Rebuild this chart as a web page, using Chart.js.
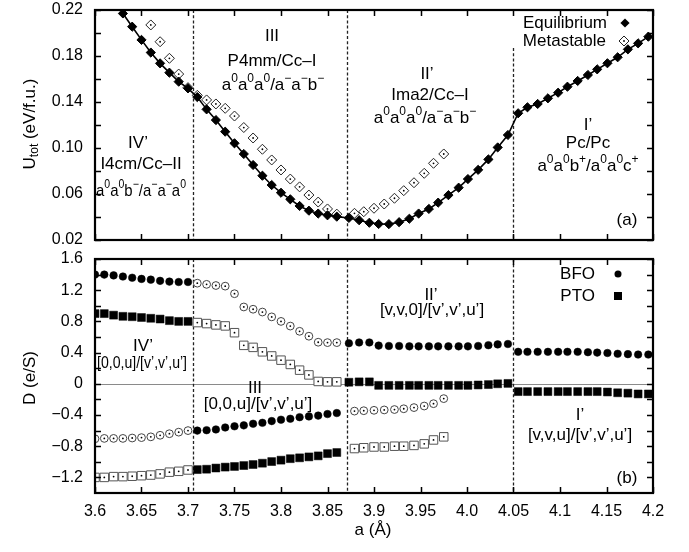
<!DOCTYPE html>
<html><head><meta charset="utf-8">
<script src="https://cdn.jsdelivr.net/npm/chart.js@4.4.1/dist/chart.umd.min.js"></script>
<style>
html,body{margin:0;padding:0;background:#fff;}
#wrap{position:relative;width:689px;height:552px;overflow:hidden;}
canvas{position:absolute;left:0;}
#c1{top:0;} #c2{top:250px;}
</style></head><body>
<div id="wrap"><canvas id="c1" width="689" height="250"></canvas><canvas id="c2" width="689" height="302"></canvas></div>
<script>
// ---------- data ----------
const xIV  = [3.60,3.61,3.62,3.63,3.64,3.65,3.66,3.67,3.68,3.69,3.70];
const xIII = [3.71,3.72,3.73,3.74,3.75,3.76,3.77,3.78,3.79,3.80,3.81,3.82,3.83,3.84,3.85,3.86];
const xII  = [3.873,3.884,3.895,3.905,3.916,3.927,3.938,3.948,3.959,3.969,3.980,3.991,4.001,4.012,4.023,4.033,4.044];
const xIIm = [3.879,3.889,3.900,3.911,3.922,3.932,3.943,3.954,3.964,3.975];
const xI   = [4.055,4.065,4.076,4.087,4.098,4.108,4.119,4.130,4.140,4.151,4.162,4.173,4.184,4.195];

// panel (a): total energy
const xEqIV   = [3.63,3.64,3.65,3.66,3.67,3.68,3.69,3.70];
const xMetaIV = [3.66,3.67,3.68,3.69,3.70];
const uEq = [0.217,0.2055,0.194,0.183,0.1736,0.1655,0.1577,0.1519,
  0.1443,0.1336,0.1243,0.1142,0.1041,0.0948,0.0852,0.0759,0.0678,0.0611,0.0554,0.0496,0.0455,0.0430,0.0415,0.0403,
  0.0392,0.0372,0.0350,0.0339,0.0338,0.0355,0.0385,0.0430,0.0470,0.0525,0.0590,0.0655,0.0730,0.0810,0.0901,0.1005,0.1113,
  0.1302,0.1354,0.1383,0.1432,0.1481,0.1533,0.1583,0.1635,0.1684,0.1737,0.1789,0.1858,0.1910,0.1968];
const uMeta = [0.207,0.1924,0.178,0.1643,0.1525,
  0.1458,0.1418,0.1383,0.1345,0.1278,0.1178,0.1087,0.0989,0.0896,0.0809,0.0730,0.0662,0.0591,0.0530,0.0470,0.0425,
  0.0432,0.0446,0.0476,0.0513,0.0563,0.0629,0.0698,0.0780,0.0867,0.0948];

// panel (b): polarization D
const bfoEqIV    = [1.40,1.40,1.39,1.375,1.36,1.345,1.335,1.32,1.31,1.305,1.305];
const bfoMetaIII = [1.29,1.275,1.26,1.252,1.155,0.985,0.956,0.92,0.858,0.80,0.74,0.673,0.61,0.533,0.528,0.528];
const bfoMetaIV  = [-0.705,-0.70,-0.70,-0.70,-0.695,-0.69,-0.68,-0.66,-0.64,-0.62,-0.60];
const bfoEqIII   = [-0.60,-0.595,-0.585,-0.56,-0.545,-0.533,-0.512,-0.50,-0.478,-0.46,-0.448,-0.428,-0.418,-0.408,-0.388,-0.375];
const bfoEqII    = [0.52,0.53,0.53,0.49,0.485,0.485,0.48,0.48,0.48,0.48,0.48,0.48,0.48,0.485,0.495,0.505,0.51];
const bfoMetaII  = [-0.35,-0.345,-0.34,-0.335,-0.33,-0.32,-0.305,-0.285,-0.255,-0.19];
const bfoEqI     = [0.41,0.41,0.41,0.41,0.41,0.41,0.41,0.405,0.40,0.395,0.385,0.38,0.375,0.375];

const ptoEqIV    = [0.90,0.90,0.88,0.865,0.86,0.85,0.84,0.83,0.81,0.80,0.80];
const ptoMetaIII = [0.785,0.772,0.755,0.742,0.655,0.493,0.467,0.41,0.357,0.303,0.248,0.175,0.114,0.03,0.025,0.025];
const ptoMetaIV  = [-1.20,-1.20,-1.19,-1.19,-1.185,-1.178,-1.17,-1.155,-1.133,-1.122,-1.105];
const ptoEqIII   = [-1.10,-1.095,-1.08,-1.068,-1.06,-1.048,-1.035,-1.018,-0.997,-0.979,-0.96,-0.949,-0.937,-0.924,-0.895,-0.881];
const ptoEqII    = [0.02,0.025,0.025,-0.02,-0.02,-0.02,-0.02,-0.02,-0.02,-0.02,-0.02,-0.02,-0.02,-0.015,-0.01,0.0,0.005];
const ptoMetaII  = [-0.83,-0.82,-0.81,-0.81,-0.80,-0.80,-0.79,-0.77,-0.72,-0.68];
const ptoEqI     = [-0.10,-0.10,-0.10,-0.10,-0.10,-0.10,-0.10,-0.10,-0.10,-0.105,-0.115,-0.12,-0.13,-0.13];

// phase boundaries (a, Å)
const bounds = [3.705, 3.871, 4.05];

// ticks
const xTickVals   = [3.6,3.65,3.7,3.75,3.8,3.85,3.9,3.95,4.0,4.05,4.1,4.15,4.2];
const xTickLabels = ['3.6','3.65','3.7','3.75','3.8','3.85','3.9','3.95','4.0','4.05','4.1','4.15','4.2'];
const yTopTicks   = [0.02,0.06,0.10,0.14,0.18,0.22];
const yTopLabels  = ['0.02','0.06','0.10','0.14','0.18','0.22'];
const yBotTicks   = [-1.2,-0.8,-0.4,0,0.4,0.8,1.2,1.6];
const yBotLabels  = ['\u22121.2','\u22120.8','\u22120.4','0','0.4','0.8','1.2','1.6'];

// ---------- helpers ----------
const FONT = '"Liberation Sans", Arial, Helvetica, sans-serif';
Chart.defaults.font.family = FONT;
Chart.defaults.color = '#000';
const pts = (xs, ys) => xs.map((x, i) => ({x, y: ys[i]}));
const cat = (...a) => [].concat(...a);

function richSegs(s){
  const segs=[]; let i=0, buf='';
  while(i<s.length){
    const c=s[i];
    if(c==='^'){ if(buf){segs.push({t:buf});buf='';} segs.push({t:s[i+1],sup:true}); i+=2; }
    else if(c==='_' && s[i+1]==='{'){ if(buf){segs.push({t:buf});buf='';} const j=s.indexOf('}',i); segs.push({t:s.slice(i+2,j),sub:true}); i=j+1; }
    else { buf+=c; i++; }
  }
  if(buf) segs.push({t:buf});
  return segs;
}
function drawRich(ctx, s, x, y, size, opts){
  opts = opts || {};
  const segs = richSegs(s);
  const small = Math.round(size*0.68);
  let w = 0;
  segs.forEach(g=>{ ctx.font=((g.sup||g.sub)?small:size)+'px '+FONT; g.w=ctx.measureText(g.t).width; w+=g.w; });
  let sx = 1; if(opts.maxWidth && w>opts.maxWidth) sx = opts.maxWidth/w;
  ctx.save();
  ctx.translate(x,y); if(opts.rotate) ctx.rotate(opts.rotate); ctx.scale(sx,1);
  let cx = opts.align==='right' ? -w : (opts.align==='left' ? 0 : -w/2);
  ctx.textBaseline='middle'; ctx.textAlign='left'; ctx.fillStyle=opts.color||'#000';
  segs.forEach(g=>{
    ctx.font=((g.sup||g.sub)?small:size)+'px '+FONT;
    const dy = g.sup ? -size*0.36 : (g.sub ? size*0.30 : 0);
    ctx.fillText(g.t, cx, dy); cx += g.w;
  });
  ctx.restore();
}
function marker(ctx, style, x, y, r, fill, stroke){
  ctx.save(); ctx.beginPath();
  if(style==='diamond'){ ctx.moveTo(x,y-r); ctx.lineTo(x+r,y); ctx.lineTo(x,y+r); ctx.lineTo(x-r,y); ctx.closePath(); }
  else if(style==='circle'){ ctx.arc(x,y,r,0,Math.PI*2); }
  else { ctx.rect(x-r,y-r,2*r,2*r); }
  if(fill){ ctx.fillStyle=fill; ctx.fill(); }
  if(stroke){ ctx.strokeStyle=stroke; ctx.lineWidth=1; ctx.stroke(); }
  if(fill==='#fff'){ ctx.beginPath(); ctx.arc(x,y,0.9,0,Math.PI*2); ctx.fillStyle='#000'; ctx.fill(); }
  ctx.restore();
}

const decor = {
  id:'decor',
  beforeDatasetsDraw(chart, args, o){
    const ctx=chart.ctx, a=chart.chartArea, x=chart.scales.x, y=chart.scales.y;
    ctx.save();
    if(o.zeroLine){
      const py=Math.round(y.getPixelForValue(0))+0.5;
      ctx.strokeStyle='#8a8a8a'; ctx.lineWidth=1.2;
      ctx.beginPath(); ctx.moveTo(a.left,py); ctx.lineTo(a.right,py); ctx.stroke();
    }
    ctx.setLineDash([3,2.2]); ctx.strokeStyle='#222'; ctx.lineWidth=1.3;
    bounds.forEach((b,i)=>{
      const px=Math.round(x.getPixelForValue(b))+0.5;
      const top=(o.boundTop && o.boundTop[i]!=null)?o.boundTop[i]:a.top;
      ctx.beginPath(); ctx.moveTo(px,top); ctx.lineTo(px,a.bottom); ctx.stroke();
    });
    ctx.restore();
  },
  afterDatasetsDraw(chart, args, o){
    const ctx=chart.ctx, a=chart.chartArea, x=chart.scales.x, y=chart.scales.y;
    ctx.save();
    // ticks (inside)
    ctx.strokeStyle='#000'; ctx.lineWidth=1.5; const L=6;
    xTickVals.forEach(v=>{
      const px=Math.round(x.getPixelForValue(v))+0.5;
      ctx.beginPath(); ctx.moveTo(px,a.bottom); ctx.lineTo(px,a.bottom-L); ctx.moveTo(px,a.top); ctx.lineTo(px,a.top+L); ctx.stroke();
    });
    const maj=o.yTicks, marks=[...maj];
    for(let i=0;i<maj.length-1;i++) marks.push((maj[i]+maj[i+1])/2);
    marks.forEach(v=>{
      const py=Math.round(y.getPixelForValue(v))+0.5;
      ctx.beginPath(); ctx.moveTo(a.left,py); ctx.lineTo(a.left+L,py); ctx.moveTo(a.right,py); ctx.lineTo(a.right-L,py); ctx.stroke();
    });
    // frame
    ctx.lineWidth=2.2; ctx.strokeRect(a.left,a.top,a.right-a.left,a.bottom-a.top);
    // annotations
    (o.texts||[]).forEach(t=>drawRich(ctx,t.s,t.x,t.y,t.size||17,{maxWidth:t.mw,rotate:t.rot,align:t.align}));
    // legend
    (o.legend||[]).forEach(l=>{
      const lab=chart.data.datasets[l.ds].label;
      drawRich(ctx,lab,l.tx,l.y,17,{align:'right'});
      marker(ctx,l.style,l.mx,l.y,l.r,l.fill,l.stroke);
    });
    ctx.restore();
  }
};
Chart.register(decor);

const noGrid = {display:false, drawTicks:false};

// ---------- panel (a) ----------
const eqPts = pts(cat(xEqIV,xIII,xII,xI), uEq);
const metaPts = pts(cat(xMetaIV,xIII,xIIm), uMeta);
new Chart(document.getElementById('c1'), {
  type:'scatter',
  data:{datasets:[
    {label:'dots', data:metaPts, pointRadius:0.9, pointBackgroundColor:'#000', pointBorderWidth:0, order:0},
    {label:'Equilibrium', data:eqPts, showLine:true, borderColor:'#000', borderWidth:1.6, pointStyle:'rectRot', pointRadius:4.6, pointBackgroundColor:'#000', pointBorderColor:'#000', pointBorderWidth:1, order:1},
    {label:'Metastable', data:metaPts, pointStyle:'rectRot', pointRadius:5, pointBackgroundColor:'#fff', pointBorderColor:'#222', pointBorderWidth:1, order:2}
  ]},
  options:{
    responsive:false, animation:false, devicePixelRatio:1, events:[],
    layout:{padding:{left:0,right:36,top:10,bottom:10}},
    plugins:{legend:{display:false}, tooltip:{enabled:false},
      decor:{
        yTicks:yTopTicks, boundTop:[null,null,48],
        texts:[
          {s:'U_{tot} (eV/f.u.)', x:30, y:124, size:17, rot:-Math.PI/2},
          {s:'IV\u2019', x:138, y:143},
          {s:'I4cm/Cc\u2013II', x:141, y:164, mw:84},
          {s:'a^0a^0b^\u2212/a^\u2212a^\u2212a^0', x:141, y:191, mw:90},
          {s:'III', x:272, y:36},
          {s:'P4mm/Cc\u2013I', x:272, y:61},
          {s:'a^0a^0a^0/a^\u2212a^\u2212b^\u2212', x:273, y:85},
          {s:'II\u2019', x:427, y:74},
          {s:'Ima2/Cc\u2013I', x:430, y:95},
          {s:'a^0a^0a^0/a^\u2212a^\u2212b^\u2212', x:425, y:118},
          {s:'I\u2019', x:588, y:125},
          {s:'Pc/Pc', x:588, y:143},
          {s:'a^0a^0b^+/a^0a^0c^+', x:588, y:166},
          {s:'(a)', x:627, y:220}
        ],
        legend:[
          {ds:1, tx:607, mx:625, y:23, style:'diamond', r:4.6, fill:'#000'},
          {ds:2, tx:606, mx:624, y:41, style:'diamond', r:5, fill:'#fff', stroke:'#222'}
        ]
      }
    },
    scales:{
      x:{type:'linear', min:3.6, max:4.2, display:false},
      y:{type:'linear', min:0.02, max:0.22, grid:noGrid, border:{display:false},
         afterBuildTicks:s=>{ s.ticks=yTopTicks.map(v=>({value:v})); },
         afterFit:s=>{ s.width=95; s.paddingTop=0; s.paddingBottom=0; },
         ticks:{padding:12, font:{size:16}, color:'#000', callback:(v,i)=>yTopLabels[i]}}
    }
  }
});

// ---------- panel (b) ----------
const bfoEq   = cat(pts(xIV,bfoEqIV), pts(xIII,bfoEqIII), pts(xII,bfoEqII), pts(xI,bfoEqI));
const bfoMeta = cat(pts(xIV,bfoMetaIV), pts(xIII,bfoMetaIII), pts(xIIm,bfoMetaII));
const ptoEq   = cat(pts(xIV,ptoEqIV), pts(xIII,ptoEqIII), pts(xII,ptoEqII), pts(xI,ptoEqI));
const ptoMeta = cat(pts(xIV,ptoMetaIV), pts(xIII,ptoMetaIII), pts(xIIm,ptoMetaII));
new Chart(document.getElementById('c2'), {
  type:'scatter',
  data:{datasets:[
    {label:'dots', data:cat(bfoMeta,ptoMeta), pointRadius:0.9, pointBackgroundColor:'#000', pointBorderWidth:0, order:0},
    {label:'BFO', data:bfoEq, pointStyle:'circle', pointRadius:3.8, pointBackgroundColor:'#000', pointBorderColor:'#000', pointBorderWidth:0.5, order:1},
    {label:'PTO', data:ptoEq, pointStyle:'rect', pointRadius:5.6, pointBackgroundColor:'#000', pointBorderColor:'#000', pointBorderWidth:0.5, order:1},
    {label:'BFO metastable', data:bfoMeta, pointStyle:'circle', pointRadius:3.9, pointBackgroundColor:'#fff', pointBorderColor:'#444', pointBorderWidth:1, order:2},
    {label:'PTO metastable', data:ptoMeta, pointStyle:'rect', pointRadius:6, pointBackgroundColor:'#fff', pointBorderColor:'#555', pointBorderWidth:1, order:2}
  ]},
  options:{
    responsive:false, animation:false, devicePixelRatio:1, events:[],
    layout:{padding:{left:0,right:36,top:9,bottom:0}},
    plugins:{legend:{display:false}, tooltip:{enabled:false},
      decor:{
        yTicks:yBotTicks, zeroLine:true,
        texts:[
          {s:'D (e/S)', x:30, y:128, size:17, rot:-Math.PI/2},
          {s:'a (\u00c5)', x:373, y:280, size:17},
          {s:'IV\u2019', x:143, y:96},
          {s:'[0,0,u]/[v\u2019,v\u2019,u\u2019]', x:142, y:113, mw:90},
          {s:'III', x:255, y:138},
          {s:'[0,0,u]/[v\u2019,v\u2019,u\u2019]', x:258, y:154},
          {s:'II\u2019', x:431, y:45},
          {s:'[v,v,0]/[v\u2019,v\u2019,u\u2019]', x:432, y:60},
          {s:'I\u2019', x:580, y:165},
          {s:'[v,v,u]/[v\u2019,v\u2019,u\u2019]', x:580, y:185},
          {s:'(b)', x:627, y:228}
        ],
        legend:[
          {ds:1, tx:595, mx:618, y:24, style:'circle', r:3.5, fill:'#000'},
          {ds:2, tx:595, mx:618, y:46, style:'rect', r:4, fill:'#000'}
        ]
      }
    },
    scales:{
      x:{type:'linear', min:3.6, max:4.2, grid:noGrid, border:{display:false},
         afterBuildTicks:s=>{ s.ticks=xTickVals.map(v=>({value:v})); },
         afterFit:s=>{ s.height=59; s.paddingLeft=0; s.paddingRight=0; },
         ticks:{padding:9, font:{size:16}, color:'#000', maxRotation:0, autoSkip:false, callback:(v,i)=>xTickLabels[i]}},
      y:{type:'linear', min:-1.4, max:1.6, grid:noGrid, border:{display:false},
         afterBuildTicks:s=>{ s.ticks=yBotTicks.map(v=>({value:v})); },
         afterFit:s=>{ s.width=95; s.paddingTop=0; s.paddingBottom=0; },
         ticks:{padding:12, font:{size:16}, color:'#000', callback:(v,i)=>yBotLabels[i]}}
    }
  }
});
</script>
</body></html>
